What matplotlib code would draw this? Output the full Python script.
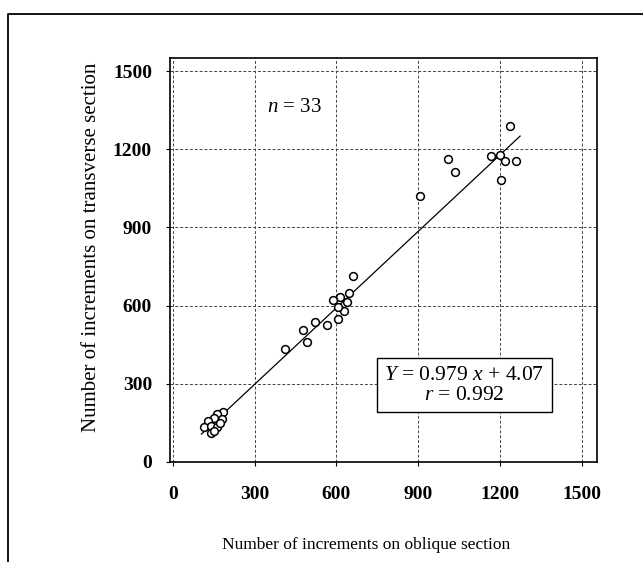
import matplotlib.pyplot as plt
from matplotlib.lines import Line2D

# oblique (x) vs transverse (y) increment counts, n = 33
oblique = [185, 163, 179, 152, 130, 115, 142, 164, 140, 172, 150,
           413, 492, 478, 522, 566, 605, 629, 607, 639, 614, 586, 645, 660,
           907, 1008, 1036, 1203, 1166, 1200, 1219, 1258, 1237]
transverse = [192, 183, 163, 167, 158, 135, 137, 135, 113, 150, 120,
              433, 462, 506, 538, 526, 547, 581, 594, 615, 632, 622, 647, 712,
              1019, 1163, 1112, 1083, 1173, 1177, 1154, 1156, 1290]

slope, intercept, r_value = 0.979, 4.07, 0.992
fit_x = [105, 1273]
ticks = [0, 300, 600, 900, 1200, 1500]

plt.rcParams["font.family"] = ["Liberation Serif", "DejaVu Serif"]
plt.rcParams["mathtext.fontset"] = "custom"
plt.rcParams["mathtext.it"] = "Liberation Serif:italic"
plt.rcParams["mathtext.rm"] = "Liberation Serif"

fig = plt.figure(figsize=(6.43, 5.62), dpi=100)
ax = fig.add_axes([0.2644, 0.178, 0.6641, 0.7188])

ax.plot(fit_x, [slope * v + intercept for v in fit_x], color="black", lw=0.9, zorder=2)
ax.plot(oblique, transverse, "o", ms=5.6, mfc="white", mec="black", mew=1.1, zorder=3)

ax.set_xlim(-10, 1555)
ax.set_ylim(0, 1550)
ax.set_xticks(ticks)
ax.set_yticks(ticks)
ax.tick_params(direction="out", length=3, width=0.8, labelsize=14)
ax.tick_params(axis="x", pad=14)
ax.tick_params(axis="y", pad=10)
for lbl in ax.get_xticklabels() + ax.get_yticklabels():
    lbl.set_fontweight("bold")
ax.grid(True, ls=(0, (3, 2)), lw=0.7, color="#444444")
for s in ax.spines.values():
    s.set_linewidth(1.2)

ax.text(345, 1360, "$n$ = 33", fontsize=15, va="center", ha="left")
ax.text(1068, 294, f"$Y$ = {slope} $x$ + {intercept}\n$r$ = {r_value}",
        fontsize=15.5, ha="center", va="center", linespacing=1.05,
        bbox=dict(boxstyle="square,pad=0.35", fc="white", ec="black", lw=1.0),
        zorder=4)

fig.text(0.143, 0.56, "Number of increments on transverse section",
         rotation=90, fontsize=15, ha="center", va="center")
fig.text(0.569, 0.03, "Number of increments on oblique section",
         fontsize=12.5, ha="center", va="center")

# outer frame of the scanned figure
fig.add_artist(Line2D([8 / 643, 8 / 643, 1.0], [0.0, 1 - 14 / 562, 1 - 14 / 562],
                      transform=fig.transFigure, color="black", lw=1.3))

fig.savefig("out.png", dpi=100)
